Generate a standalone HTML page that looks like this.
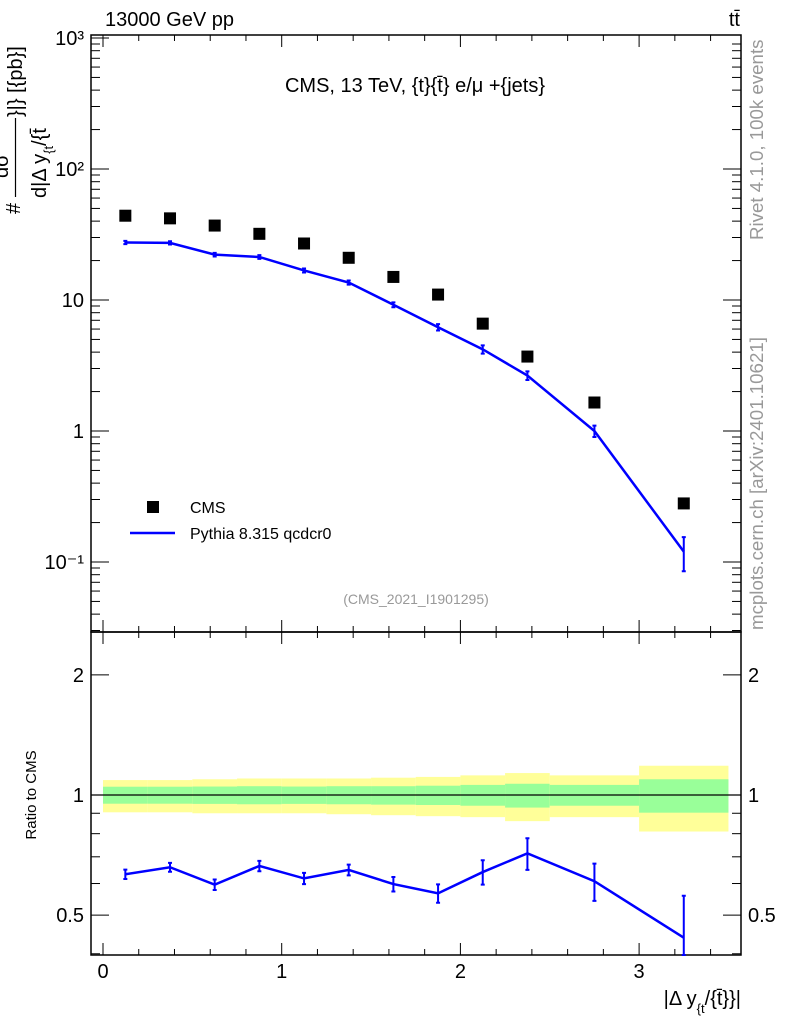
<!DOCTYPE html>
<html><head><meta charset="utf-8">
<style>
body{margin:0;background:#fff;width:786px;height:1024px;overflow:hidden}
svg{font-family:"Liberation Sans",sans-serif}
</style></head>
<body>
<svg id="chart" width="786" height="1024" viewBox="0 0 786 1024" xmlns="http://www.w3.org/2000/svg">
<g id="bands"></g>
<g id="axes"></g>
<g id="marks"></g>
<text x="105" y="26" font-size="20">13000 GeV pp</text>
<text x="740" y="26" font-size="20" text-anchor="end">tt̄</text>
<text x="415" y="92" font-size="20" text-anchor="middle">CMS, 13 TeV, {t}{t̄} e/μ +{jets}</text>
<text x="416" y="604" font-size="14" fill="#999" text-anchor="middle">(CMS_2021_I1901295)</text>
<rect x="147" y="501" width="12" height="12" fill="#000"/>
<text x="190" y="513" font-size="16">CMS</text>
<line x1="130" y1="533" x2="175" y2="533" stroke="#0000ff" stroke-width="2.5"/>
<text x="190" y="539" font-size="16">Pythia 8.315 qcdcr0</text>
<g font-size="20">
<text transform="translate(20,214) rotate(-90)">#</text>
<line x1="15.5" x2="15.5" y1="118" y2="197" stroke="#000" stroke-width="1.2"/>
<text transform="translate(8,178) rotate(-90)">dσ</text>
<text transform="translate(46,198) rotate(-90)">d|Δ y<tspan font-size="13" dy="7">{t</tspan><tspan dy="-7">/{t̄</tspan></text>
<text transform="translate(22,117) rotate(-90)">}|} [{pb}]</text>
</g>
<text transform="translate(36,795) rotate(-90)" font-size="15" text-anchor="middle">Ratio to CMS</text>
<text x="741" y="1005" font-size="20" text-anchor="end">|Δ y<tspan font-size="13" dy="8">{t</tspan><tspan dy="-8">/{t̄}}|</tspan></text>
<text transform="translate(763,240) rotate(-90)" font-size="18.7" fill="#999">Rivet 4.1.0,  100k events</text>
<text transform="translate(763,630) rotate(-90)" font-size="18.7" fill="#999">mcplots.cern.ch [arXiv:2401.10621]</text>
</svg>
<script>
const binLo=[0,0.25,0.5,0.75,1,1.25,1.5,1.75,2,2.25,2.5,3];
const binHi=[0.25,0.5,0.75,1,1.25,1.5,1.75,2,2.25,2.5,3,3.5];
const cmsVals=[44,42,37,32,27,21,15,11,6.6,3.7,1.65,0.28];
const mcVals=[27.5,27.3,22.2,21.3,16.8,13.6,9.2,6.2,4.2,2.65,1.0,0.12];
const mcErr=[0.8,0.8,0.7,0.7,0.6,0.5,0.4,0.35,0.3,0.2,0.1,0.035];
const ratioVals=[0.633,0.659,0.596,0.664,0.618,0.649,0.598,0.567,0.641,0.714,0.608,0.439];
const ratioErr=[0.017,0.017,0.018,0.02,0.02,0.02,0.025,0.03,0.045,0.065,0.065,0.12];
const yelUp=[1.09,1.09,1.095,1.10,1.10,1.10,1.105,1.11,1.12,1.135,1.12,1.184];
const yelDn=[0.905,0.905,0.90,0.90,0.90,0.895,0.89,0.885,0.88,0.86,0.88,0.81];
const grnUp=[1.049,1.049,1.05,1.052,1.05,1.052,1.052,1.055,1.06,1.067,1.06,1.095];
const grnDn=[0.951,0.951,0.95,0.948,0.95,0.948,0.946,0.944,0.94,0.93,0.94,0.903];
const xTicks=[0,1,2,3];
const NS="http://www.w3.org/2000/svg";
const L=91,R=741,T=35,MB=632,B=955;
const X=v=>103+v*178.7;
const Y=v=>431-Math.log10(v)*131;
const RY=v=>795-Math.log10(v)*399;
function mk(p,tag,a){const e=document.createElementNS(NS,tag);for(const k in a)e.setAttribute(k,a[k]);p.appendChild(e);return e;}
const ax=document.getElementById('axes'),mg=document.getElementById('marks'),bd=document.getElementById('bands');
for(let i=0;i<binLo.length;i++){
 const y=mk(bd,'rect',{x:X(binLo[i]),y:RY(yelUp[i]),width:X(binHi[i])-X(binLo[i]),height:RY(yelDn[i])-RY(yelUp[i]),fill:'#ffff99'});
 
 
 const g=mk(bd,'rect',{x:X(binLo[i]),y:RY(grnUp[i]),width:X(binHi[i])-X(binLo[i]),height:RY(grnDn[i])-RY(grnUp[i]),fill:'#99ff99'});
 
 
}
mk(ax,'line',{x1:L,x2:R,y1:RY(1),y2:RY(1),stroke:'#000','stroke-width':1.2});
mk(ax,'rect',{x:L,y:T,width:R-L,height:MB-T,fill:'none',stroke:'#000','stroke-width':1.5});
mk(ax,'rect',{x:L,y:MB,width:R-L,height:B-MB,fill:'none',stroke:'#000','stroke-width':1.5});
for(let v=0;v<=3.5001;v+=0.2){const maj=Math.abs(v-Math.round(v))<1e-6;const len=maj?12:6;
 for(const [y0,y1] of [[MB,T],[B,MB]]){mk(ax,'line',{x1:X(v),x2:X(v),y1:y0,y2:y0-len,stroke:'#000'});mk(ax,'line',{x1:X(v),x2:X(v),y1:y1,y2:y1+len,stroke:'#000'});}}
xTicks.forEach(v=>{const t=mk(ax,'text',{x:X(v),y:978,'font-size':20,'text-anchor':'middle'});t.textContent=v;
 
 });
for(let d=-2;d<3;d++)for(let m=1;m<10;m++){const v=m*Math.pow(10,d);const y=Y(v);if(y<T||y>MB)continue;const len=m==1?18:9;
 mk(ax,'line',{x1:L,x2:L+len,y1:y,y2:y,stroke:'#000'});mk(ax,'line',{x1:R,x2:R-len,y1:y,y2:y,stroke:'#000'});}
mk(ax,'line',{x1:L,x2:L+18,y1:Y(1000),y2:Y(1000),stroke:'#000'});
[[1000,'10³'],[100,'10²'],[10,'10'],[1,'1'],[0.1,'10⁻¹']].forEach(([v,s])=>{const t=mk(ax,'text',{x:84,y:Y(v)+7,'font-size':20,'text-anchor':'end'});t.textContent=s;
 
 });
[0.4,0.5,0.6,0.7,0.8,0.9,1,2].forEach(v=>{const y=RY(v);const len=(v==0.5||v==1||v==2)?18:9;
 mk(ax,'line',{x1:L,x2:L+len,y1:y,y2:y,stroke:'#000'});mk(ax,'line',{x1:R,x2:R-len,y1:y,y2:y,stroke:'#000'});});
[[2,'2'],[1,'1'],[0.5,'0.5']].forEach(([v,s])=>{const a=mk(ax,'text',{x:84,y:RY(v)+7,'font-size':20,'text-anchor':'end'});a.textContent=s;
 
 
 const b=mk(ax,'text',{x:748,y:RY(v)+7,'font-size':20});b.textContent=s;
 
 });
const ctr=binLo.map((l,i)=>(l+binHi[i])/2);
cmsVals.forEach((v,i)=>{const r=mk(mg,'rect',{x:X(ctr[i])-6,y:Y(v)-6,width:12,height:12,fill:'#000'});
 
 });
const pl=mk(mg,'polyline',{points:mcVals.map((v,i)=>X(ctr[i])+','+Y(v)).join(' '),fill:'none',stroke:'#0000ff','stroke-width':2.5});


mcVals.forEach((v,i)=>{const x=X(ctr[i]);const y1=Y(v+mcErr[i]),y2=Y(Math.max(v-mcErr[i],1e-3));
 const e=mk(mg,'path',{d:`M${x},${y1}V${y2}M${x-2},${y1}h4M${x-2},${y2}h4`,stroke:'#0000ff','stroke-width':2,fill:'none'});
 
 });
const rl=mk(mg,'polyline',{points:ratioVals.map((v,i)=>X(ctr[i])+','+RY(v)).join(' '),fill:'none',stroke:'#0000ff','stroke-width':2.5});


ratioVals.forEach((v,i)=>{const x=X(ctr[i]);const y1=RY(v+ratioErr[i]),y2=Math.min(B,RY(Math.max(v-ratioErr[i],0.01)));
 const e=mk(mg,'path',{d:`M${x},${y1}V${y2}M${x-2},${y1}h4M${x-2},${y2}h4`,stroke:'#0000ff','stroke-width':2,fill:'none'});
 
 });
</script>
</body></html>
